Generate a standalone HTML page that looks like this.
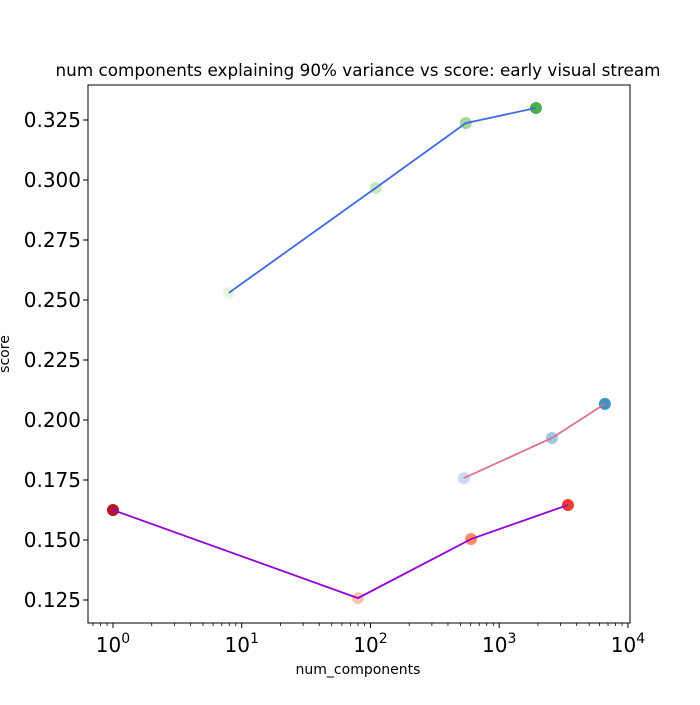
<!DOCTYPE html>
<html><head><meta charset="utf-8">
<style>
body{margin:0;background:#fff;}
svg text{font-family:"DejaVu Sans","Liberation Sans",sans-serif;fill:#000;}
</style></head>
<body>
<svg id="chart" width="700" height="700" xmlns="http://www.w3.org/2000/svg"></svg>
<script>
const blueX=[7.95,110,550,1930];
const blueY=[0.2530,0.2967,0.3237,0.3300];
const blueColors=["#e5f5e0","#c7e9c0","#a1d99b","#4daf4a"];
const pinkX=[532,2570,6620];
const pinkY=[0.1758,0.1925,0.2067];
const pinkColors=["#c6dbef","#9ecae1","#4292c6"];
const purpleX=[1,80,605,3420];
const purpleY=[0.1625,0.1258,0.1504,0.1646];
const purpleColors=["#b2182b","#fcc5b0","#fc8d62","#ef3b2c"];
const yTicks=[0.125,0.150,0.175,0.200,0.225,0.250,0.275,0.300,0.325];
const xTickExps=[0,1,2,3,4];

const L=88,R=630,T=85,B=623;
const xmin=-0.194,xmax=4.016,ymin=0.11542,ymax=0.33958;
const sx=v=>L+(Math.log10(v)-xmin)/(xmax-xmin)*(R-L);
const sy=v=>B-(v-ymin)/(ymax-ymin)*(B-T);
const svg=document.getElementById('chart');
const NS="http://www.w3.org/2000/svg";
function mk(tag,attrs,parent){const e=document.createElementNS(NS,tag);for(const k in attrs)e.setAttribute(k,attrs[k]);(parent||svg).appendChild(e);return e;}

const frame=mk('rect',{x:L,y:T,width:R-L,height:B-T,fill:'none',stroke:'#000','stroke-width':1});



yTicks.forEach(v=>{
 const y=sy(v);
 const t=mk('line',{x1:L-5,x2:L,y1:y,y2:y,stroke:'#000'});
 
 
 const lb=mk('text',{x:L-7,y:y+7,'text-anchor':'end','font-size':'20'});
 lb.textContent=v.toFixed(3);
 
 
});
xTickExps.forEach(e=>{
 const x=sx(Math.pow(10,e));
 const t=mk('line',{x1:x,x2:x,y1:B,y2:B+5,stroke:'#000'});
 
 
 const lb=mk('text',{x:x,y:B+29,'text-anchor':'middle','font-size':'20'});
 
 
 lb.innerHTML='10<tspan dy="-9" font-size="14">'+e+'</tspan>';
});
for(let e=-1;e<4;e++){for(let m=2;m<10;m++){const v=m*Math.pow(10,e);const lv=Math.log10(v);if(lv<xmin||lv>xmax)continue;const x=sx(v);
 const t=mk('line',{x1:x,x2:x,y1:B,y2:B+3,stroke:'#000','stroke-width':0.8});
 
 }}

function series(xs,ys,cols,lineColor,name){
 const pts=xs.map((x,i)=>sx(x)+','+sy(ys[i])).join(' ');
 xs.forEach((x,i)=>{
  const c=mk('circle',{cx:sx(x),cy:sy(ys[i]),r:6,fill:cols[i]});
  
  
 });
 const pl=mk('polyline',{points:pts,fill:'none',stroke:lineColor,'stroke-width':1.8});
 
 
}
series(blueX,blueY,blueColors,'#4169e1','blue-series');
series(pinkX,pinkY,pinkColors,'#db7093','pink-series');
series(purpleX,purpleY,purpleColors,'#9400d3','purple-series');

const title=mk('text',{x:358,y:76,'text-anchor':'middle','font-size':'16.8'});
title.textContent='num components explaining 90% variance vs score: early visual stream';


const xl=mk('text',{x:358,y:674,'text-anchor':'middle','font-size':'14'});
xl.textContent='num_components';


const yl=mk('text',{x:0,y:0,'text-anchor':'middle','font-size':'14',transform:'translate(9,354) rotate(-90)'});
yl.textContent='score';


</script>
</body></html>
